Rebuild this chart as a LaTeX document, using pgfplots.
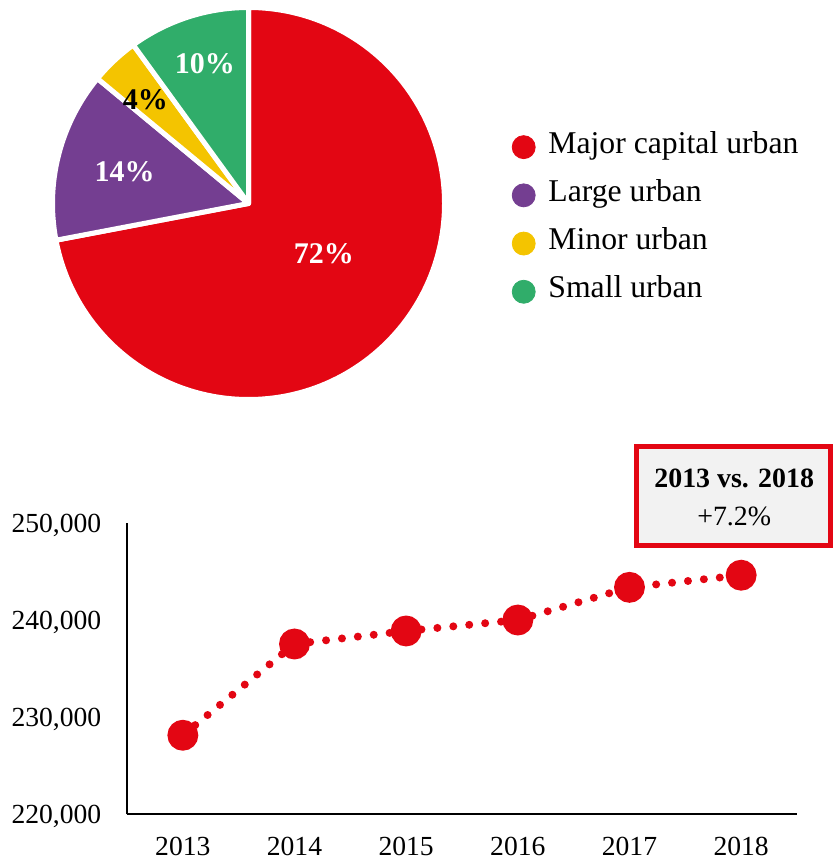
\documentclass[border=0pt]{standalone}
\usepackage{pgfplots}
\pgfplotsset{compat=1.18}
\usepackage{fontspec}
\setmainfont{Liberation Serif}
\definecolor{cred}{HTML}{E30613}
\definecolor{cpurple}{HTML}{743E91}
\definecolor{cyellow}{HTML}{F4C400}
\definecolor{cgreen}{HTML}{30AD6A}
\definecolor{boxgray}{HTML}{F2F2F2}
\begin{document}
\begin{tikzpicture}
\path[use as bounding box] (0,0) rectangle (416.5pt,-430pt);
% ---------------- pie ----------------
\begin{axis}[
  at={(26.25pt,-199.75pt)}, anchor=south west,
  scale only axis, width=196pt, height=196pt,
  xmin=-1, xmax=1, ymin=-1, ymax=1, hide axis, clip=false,
  legend style={at={(axis description cs:1.1717,0.6820)}, anchor=north west,
    draw=none, fill=none, inner sep=0pt, outer sep=0pt,
    font=\fontsize{15.85}{19}\selectfont, row sep=9.1pt,
    nodes={inner sep=0pt, text height=10.5pt, text depth=4.5pt},
    /tikz/every odd column/.append style={column sep=6.4pt}},
  legend cell align=left,
  legend image code/.code={\fill[#1] (0pt,0pt) circle (5.75pt);},
]
% shares (%): 72, 14, 4, 10 -- clockwise from 12 o'clock
\fill[cred, draw=white, line width=2.5pt, line join=round] (axis cs:0,0) -- ++(90:98pt) arc[start angle=90, end angle={90-3.6*72}, radius=98pt] -- cycle;
\fill[cpurple, draw=white, line width=2.5pt, line join=round] (axis cs:0,0) -- ++({90-3.6*72}:98pt) arc[start angle={90-3.6*72}, end angle={90-3.6*(72+14)}, radius=98pt] -- cycle;
\fill[cyellow, draw=white, line width=2.5pt, line join=round] (axis cs:0,0) -- ++({90-3.6*(72+14)}:98pt) arc[start angle={90-3.6*(72+14)}, end angle={90-3.6*(72+14+4)}, radius=98pt] -- cycle;
\fill[cgreen, draw=white, line width=2.5pt, line join=round] (axis cs:0,0) -- ++({90-3.6*(72+14+4)}:98pt) arc[start angle={90-3.6*(72+14+4)}, end angle={90-3.6*(72+14+4+10)}, radius=98pt] -- cycle;
\node[white, font=\fontsize{15}{18}\selectfont\bfseries] at (axis cs:0.385,-0.256) {72\%};
\node[white, font=\fontsize{15}{18}\selectfont\bfseries] at (axis cs:-0.632,0.162) {14\%};
\node[black, font=\fontsize{15}{18}\selectfont\bfseries] at (axis cs:-0.526,0.528) {4\%};
\node[white, font=\fontsize{15}{18}\selectfont\bfseries] at (axis cs:-0.222,0.715) {10\%};
\addlegendimage{cred}
\addlegendentry{Major capital urban}
\addlegendimage{cpurple}
\addlegendentry{Large urban}
\addlegendimage{cyellow}
\addlegendentry{Minor urban}
\addlegendimage{cgreen}
\addlegendentry{Small urban}
\end{axis}
% ---------------- line ----------------
\begin{axis}[
  at={(63.5pt,-407.15pt)}, anchor=south west,
  scale only axis, width=335pt, height=145.5pt,
  xmin=2012.5, xmax=2018.5, ymin=220000, ymax=250000,
  scaled y ticks=false, scaled x ticks=false,
  axis lines=left, axis line style={-, line width=1pt, black},
  xtick={2013,2014,2015,2016,2017,2018},
  xticklabels={2013,2014,2015,2016,2017,2018},
  ytick={220000,230000,240000,250000},
  yticklabels={{220,000},{230,000},{240,000},{250,000}},
  major tick length=0pt,
  tick label style={font=\fontsize{13.8}{16}\selectfont, inner sep=0pt},
  yticklabel style={anchor=east, xshift=-12.65pt, yshift=-1pt},
  xticklabel style={anchor=north, yshift=-11.35pt},
  clip=false,
]
\addplot[cred, line width=4pt, dash pattern=on 0pt off 8pt, line cap=round,
  mark=*, mark size=5.7pt, mark options={solid, draw=none, fill=cred}]
  coordinates {(2013,228150) (2014,237560) (2015,238900) (2016,240030) (2017,243400) (2018,244650)};
\end{axis}
% ---------------- box ----------------
\draw[cred, line width=2.5pt, fill=boxgray] (318pt,-223pt) rectangle (415.25pt,-272.5pt);
\node[font=\fontsize{13.95}{16}\selectfont\bfseries] at (367.1pt,-239pt) {2013 vs. 2018};
\node[font=\fontsize{13.95}{16}\selectfont] at (367.1pt,-258pt) {+7.2\%};
\end{tikzpicture}
\end{document}
